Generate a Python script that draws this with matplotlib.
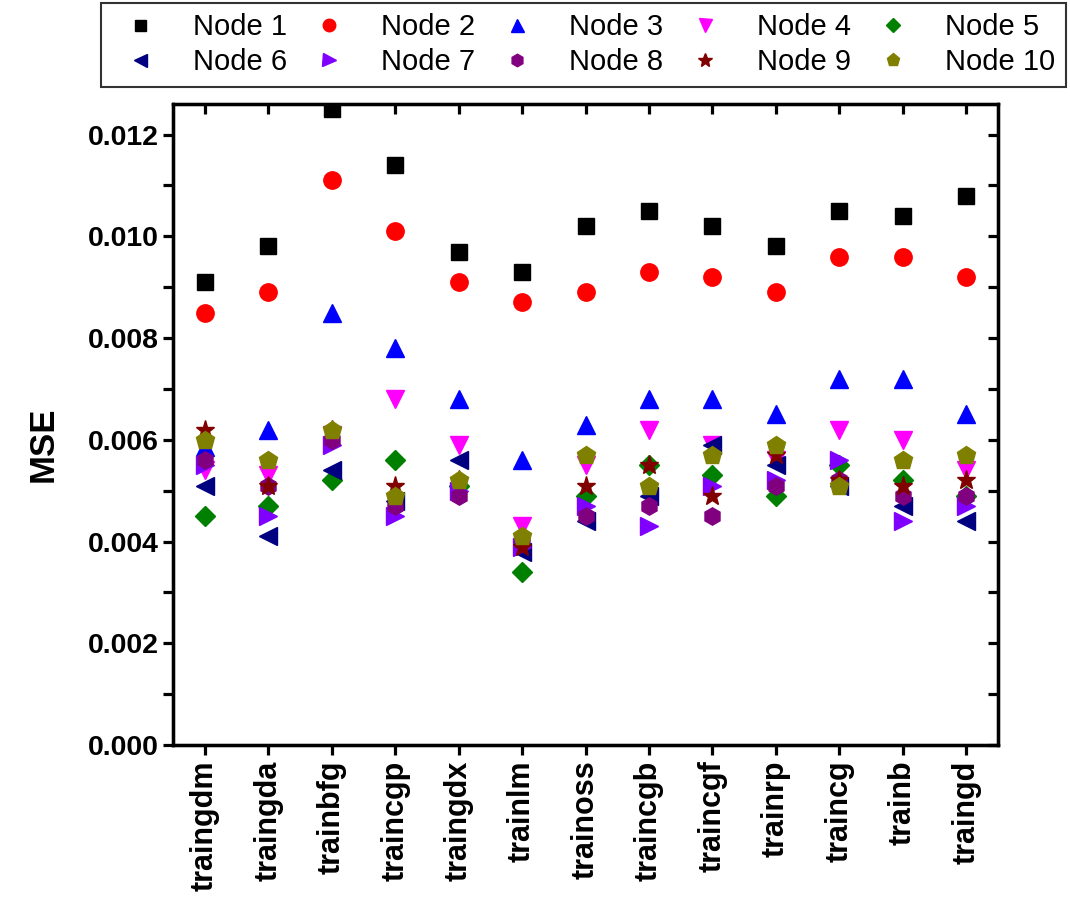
import matplotlib
matplotlib.use("Agg")
import matplotlib.pyplot as plt
from matplotlib.ticker import MultipleLocator, FormatStrFormatter

plt.rcParams['font.family'] = ['Liberation Sans', 'DejaVu Sans']

categories = ["traingdm", "traingda", "trainbfg", "traincgp", "traingdx", "trainlm",
              "trainoss", "traincgb", "traincgf", "trainrp", "traincg", "trainb", "traingd"]

node1 = [0.0091, 0.0098, 0.0125, 0.0114, 0.0097, 0.0093, 0.0102, 0.0105, 0.0102, 0.0098, 0.0105, 0.0104, 0.0108]
node2 = [0.0085, 0.0089, 0.0111, 0.0101, 0.0091, 0.0087, 0.0089, 0.0093, 0.0092, 0.0089, 0.0096, 0.0096, 0.0092]
node3 = [0.00585, 0.0062, 0.0085, 0.0078, 0.0068, 0.0056, 0.0063, 0.0068, 0.0068, 0.0065, 0.0072, 0.0072, 0.0065]
node4 = [0.0054, 0.0053, 0.0061, 0.0068, 0.0059, 0.0043, 0.0055, 0.0062, 0.0059, 0.0056, 0.0062, 0.0060, 0.0054]
node5 = [0.0045, 0.0047, 0.0052, 0.0056, 0.0051, 0.0034, 0.0049, 0.0055, 0.0053, 0.0049, 0.0055, 0.0052, 0.0049]
node6 = [0.0051, 0.0041, 0.0054, 0.0048, 0.0056, 0.0038, 0.0044, 0.0049, 0.0059, 0.0055, 0.0051, 0.0047, 0.0044]
node7 = [0.0055, 0.0045, 0.0059, 0.0045, 0.0050, 0.0039, 0.0047, 0.0043, 0.0051, 0.0052, 0.0056, 0.0044, 0.0047]
node8 = [0.0056, 0.0051, 0.0060, 0.0047, 0.0049, 0.0040, 0.0045, 0.0047, 0.0045, 0.0051, 0.0052, 0.0049, 0.0049]
node9 = [0.0062, 0.0051, 0.0062, 0.0051, 0.0052, 0.0039, 0.0051, 0.0055, 0.0049, 0.0057, 0.0052, 0.0051, 0.0052]
node10 = [0.0060, 0.0056, 0.0062, 0.0049, 0.0052, 0.0041, 0.0057, 0.0051, 0.0057, 0.0059, 0.0051, 0.0056, 0.0057]

series = [node1, node2, node3, node4, node5, node6, node7, node8, node9, node10]
labels = ["Node %d" % i for i in range(1, 11)]
colors = ["#000000", "#FF0000", "#0000FF", "#FF00FF", "#008000",
          "#000080", "#8000FF", "#800080", "#800000", "#808000"]
markers = ["s", "o", "^", "v", "D", "<", ">", "h", "*", "p"]
sizes = [11, 12.5, 13, 13, 10.5, 13, 13, 12.5, 14, 13.5]

fig = plt.figure(figsize=(10.70, 9.02), dpi=100)
ax = fig.add_axes([0.1617, 0.174, 0.771, 0.7107])

x = list(range(1, len(categories) + 1))
handles = []
for vals, lab, c, m, s in zip(series, labels, colors, markers, sizes):
    h, = ax.plot(x, vals, linestyle="none", marker=m, markersize=s, color=c,
                 markeredgecolor=c, label=lab)
    handles.append(h)

ylim = (0, 0.0126)
ax.set_xlim(0.5, 13.5)
ax.set_ylim(*ylim)
ax.set_xticks(x)
ax.set_xticklabels(categories, rotation=90, fontsize=22, fontweight="bold")
ax.yaxis.set_major_locator(MultipleLocator(0.002))
ax.yaxis.set_minor_locator(MultipleLocator(0.001))
ax.yaxis.set_major_formatter(FormatStrFormatter("%.3f"))
for lab in ax.get_yticklabels():
    lab.set_fontweight("bold")
    lab.set_fontsize(20.5)
ax.set_ylabel("MSE", fontsize=25, fontweight="bold")
ax.yaxis.set_label_coords(-0.137, 0.47)

for sp in ax.spines.values():
    sp.set_linewidth(2.3)

ax.tick_params(axis="both", which="both", width=2.3, length=7, direction="out",
               top=False, right=False)
ax.tick_params(axis="y", pad=3)
ax.tick_params(axis="x", pad=4)

# mirrored inward ticks on top and right
axt = ax.twiny()
axt.set_xlim(ax.get_xlim())
axt.set_xticks(x)
axt.tick_params(axis="x", direction="in", width=2.3, length=7, labeltop=False)
axr = ax.twinx()
axr.set_ylim(*ylim)
axr.yaxis.set_major_locator(MultipleLocator(0.002))
axr.yaxis.set_minor_locator(MultipleLocator(0.001))
axr.tick_params(axis="y", which="both", direction="in", width=2.3, length=7, labelright=False)
for a in (axt, axr):
    for sp in a.spines.values():
        sp.set_linewidth(2.3)

# legend filled row-wise like the reference
order = [0, 5, 1, 6, 2, 7, 3, 8, 4, 9]
leg = fig.legend(handles=[handles[i] for i in order], labels=[labels[i] for i in order],
                 ncol=5, loc="upper left",
                 bbox_to_anchor=(0.0944, 0.9002, 0.9016, 0.0965), mode="expand",
                 fontsize=21, frameon=True, fancybox=False, edgecolor="black",
                 markerscale=0.72, handlelength=2.0, handletextpad=0.8,
                 columnspacing=0.3, borderaxespad=0.0, labelspacing=0.25,
                 borderpad=0.35)
leg.get_frame().set_linewidth(1.5)

fig.savefig("out.png", dpi=100)
